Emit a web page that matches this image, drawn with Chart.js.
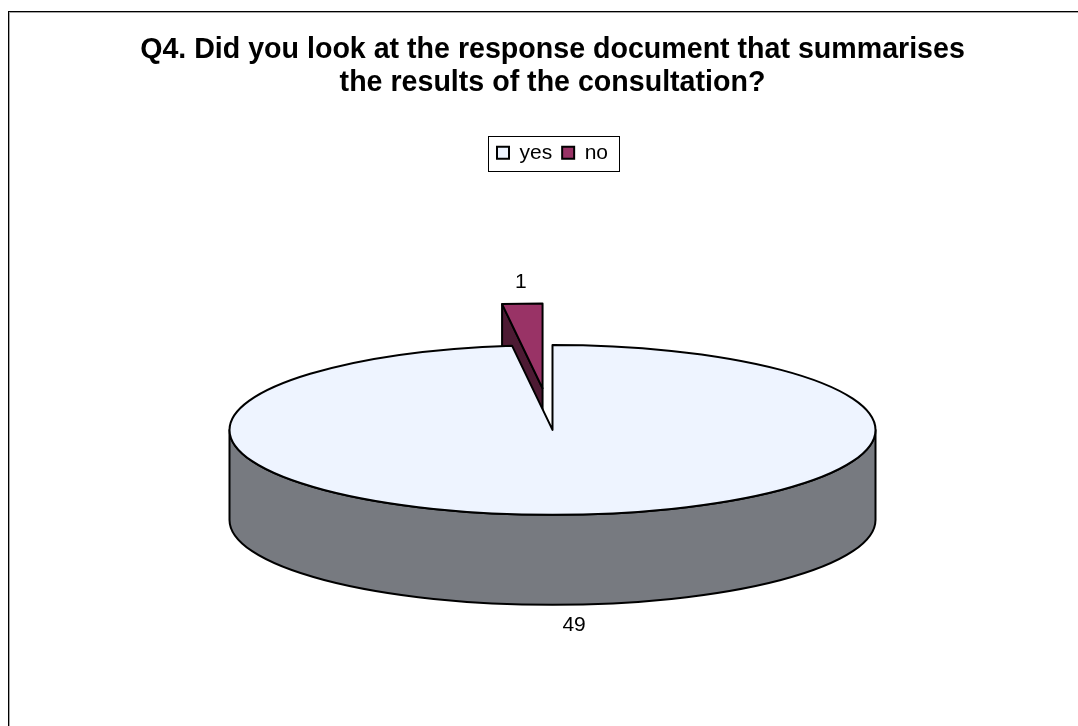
<!DOCTYPE html>
<html>
<head>
<meta charset="utf-8">
<title>Q4 response document</title>
<script src="https://cdn.jsdelivr.net/npm/chart.js@4/dist/chart.umd.min.js"></script>
<style>
  html, body { margin: 0; padding: 0; background: #fff; }
  #wrap { position: relative; width: 1078px; height: 726px; }
</style>
</head>
<body>
<div id="wrap"><canvas id="pieChart" width="1078" height="726"></canvas></div>
<script>
var answers = ['yes', 'no'];
var counts = [49, 1];
var sliceColors = ['#eef4ff', '#993366'];
var titleLines = [
    'Q4. Did you look at the response document that summarises',
    'the results of the consultation?'
];

Chart.defaults.font.family = '"Liberation Sans", Arial, Helvetica, sans-serif';
Chart.defaults.color = '#000';

// darker tone of a slice colour, used for its sides
function shade(hex, f) {
    var n = parseInt(hex.slice(1), 16);
    var r = Math.round(((n >> 16) & 255) * f);
    var g = Math.round(((n >> 8) & 255) * f);
    var b = Math.round((n & 255) * f);
    return 'rgb(' + r + ',' + g + ',' + b + ')';
}

// outer frame of the chart object
var chartFrame = {
    id: 'chartFrame',
    beforeDraw: function (chart) {
        var ctx = chart.ctx;
        ctx.save();
        ctx.fillStyle = '#fff';
        ctx.fillRect(0, 0, chart.width, chart.height);
        ctx.fillStyle = '#000';
        ctx.fillRect(8, 11, chart.width, 1);
        ctx.fillRect(8, 11, 1, chart.height);
        ctx.fillStyle = '#a6a6a6';
        ctx.fillRect(9, 12, chart.width, 1);
        ctx.fillRect(9, 12, 1, chart.height);
        ctx.restore();
    }
};

// box around the legend items
var legendFrame = {
    id: 'legendFrame',
    afterDraw: function (chart) {
        var boxes = chart.legend && chart.legend.legendHitBoxes;
        if (!boxes || !boxes.length) return;
        var l = Infinity, r = -Infinity, t = Infinity, b = -Infinity;
        boxes.forEach(function (h) {
            l = Math.min(l, h.left);
            r = Math.max(r, h.left + h.width);
            t = Math.min(t, h.top);
            b = Math.max(b, h.top + h.height);
        });
        var ctx = chart.ctx;
        ctx.save();
        ctx.strokeStyle = '#000';
        ctx.lineWidth = 1;
        ctx.strokeRect(Math.round(l - 9) + 0.5, Math.round(t - 6) + 0.5,
            Math.round(r - l + 20), Math.round(b - t + 14));
        ctx.restore();
    }
};

// tilted pie: sides drawn here, top faces drawn by the pie controller under a squash
var pie3d = {
    id: 'pie3d',
    afterDatasetUpdate: function (chart, args, opts) {
        var area = chart.chartArea;
        chart.$pie3d = { cx: (area.left + area.right) / 2, cy: (area.top + area.bottom) / 2 };
        args.meta.data.forEach(function (arc, i) {
            var ex = (opts.explode || [])[i] || 0;
            if (!ex) return;
            var mid = (arc.startAngle + arc.endAngle) / 2;
            arc.x += Math.cos(mid) * ex * arc.outerRadius;
            arc.y += Math.sin(mid) * ex * arc.outerRadius;
        });
    },
    beforeDatasetsDraw: function (chart, args, opts) {
        var ctx = chart.ctx, c = chart.$pie3d, k = opts.tilt, depth = opts.depth;
        var arcs = chart.getDatasetMeta(0).data;
        var colors = chart.data.datasets[0].backgroundColor;

        var order = arcs.map(function (a, i) { return i; });
        order.sort(function (a, b) {
            var A = arcs[a], B = arcs[b];
            var ya = A.y + Math.sin((A.startAngle + A.endAngle) / 2) * A.outerRadius / 2;
            var yb = B.y + Math.sin((B.startAngle + B.endAngle) / 2) * B.outerRadius / 2;
            return ya - yb;
        });

        ctx.save();
        ctx.lineWidth = opts.lineWidth;
        ctx.strokeStyle = '#000';
        ctx.lineJoin = 'round';
        order.forEach(function (i) {
            var arc = arcs[i];
            var ex = arc.x, ey = c.cy + (arc.y - c.cy) * k;
            var rx = arc.outerRadius, ry = rx * k;
            var s = arc.startAngle, e = arc.endAngle;
            ctx.fillStyle = shade(colors[i], 0.5);

            function radial(a) {
                ctx.beginPath();
                ctx.moveTo(ex, ey);
                ctx.lineTo(ex + rx * Math.cos(a), ey + ry * Math.sin(a));
                ctx.lineTo(ex + rx * Math.cos(a), ey + ry * Math.sin(a) + depth);
                ctx.lineTo(ex, ey + depth);
                ctx.closePath();
                ctx.fill();
                ctx.stroke();
            }
            if (Math.cos(s) < -1e-6) radial(s);
            if (Math.cos(e) > 1e-6) radial(e);

            // outer wall, only the part facing the front
            for (var n = -1; n <= 2; n++) {
                var a1 = Math.max(s, 2 * Math.PI * n), a2 = Math.min(e, 2 * Math.PI * n + Math.PI);
                if (a2 <= a1) continue;
                ctx.beginPath();
                ctx.ellipse(ex, ey, rx, ry, 0, a1, a2, false);
                ctx.lineTo(ex + rx * Math.cos(a2), ey + ry * Math.sin(a2) + depth);
                ctx.ellipse(ex, ey + depth, rx, ry, 0, a2, a1, true);
                ctx.closePath();
                ctx.fill();
                ctx.stroke();
            }
        });
        ctx.restore();

        ctx.save();
        ctx.translate(0, c.cy);
        ctx.scale(1, k);
        ctx.translate(0, -c.cy);
    },
    afterDatasetsDraw: function (chart, args, opts) {
        var ctx = chart.ctx, c = chart.$pie3d, k = opts.tilt, depth = opts.depth;
        ctx.restore();
        var meta = chart.getDatasetMeta(0);
        var values = chart.data.datasets[0].data;

        ctx.save();
        ctx.lineWidth = opts.lineWidth;
        ctx.strokeStyle = '#000';
        ctx.lineJoin = 'round';
        meta.data.forEach(function (arc) {
            ctx.save();
            ctx.translate(0, c.cy);
            ctx.scale(1, k);
            ctx.translate(0, -c.cy);
            ctx.beginPath();
            ctx.moveTo(arc.x, arc.y);
            ctx.arc(arc.x, arc.y, arc.outerRadius, arc.startAngle, arc.endAngle);
            ctx.closePath();
            ctx.restore();
            ctx.stroke();
        });

        // value labels just outside each slice
        ctx.fillStyle = '#000';
        ctx.font = opts.labelSize + 'px ' + Chart.defaults.font.family;
        ctx.textAlign = 'center';
        ctx.textBaseline = 'middle';
        meta.data.forEach(function (arc, i) {
            var mid = (arc.startAngle + arc.endAngle) / 2;
            var ex = arc.x, ey = c.cy + (arc.y - c.cy) * k;
            var px = ex + arc.outerRadius * Math.cos(mid);
            var py = ey + arc.outerRadius * k * Math.sin(mid) + (Math.sin(mid) > 0 ? depth : 0);
            ctx.fillText(String(values[i]), px + opts.labelGap * Math.cos(mid), py + opts.labelGap * Math.sin(mid));
        });
        ctx.restore();
    }
};

var baseLabels = (Chart.overrides.pie || Chart.overrides.doughnut).plugins.legend.labels.generateLabels;

var pieChart = new Chart(document.getElementById('pieChart'), {
    type: 'pie',
    data: {
        labels: answers,
        datasets: [{
            data: counts,
            backgroundColor: sliceColors,
            borderColor: '#000',
            borderWidth: 0,
            radius: 323,
            clip: false
        }]
    },
    options: {
        responsive: false,
        animation: false,
        events: [],
        layout: { padding: { left: 27, right: 0, top: 0, bottom: 39.5 } },
        plugins: {
            title: {
                display: true,
                text: titleLines,
                color: '#000',
                font: { size: 28.6, weight: 'bold', lineHeight: 1.17 },
                padding: { top: 33.4, bottom: 32 }
            },
            legend: {
                position: 'top',
                labels: {
                    boxWidth: 12,
                    boxHeight: 12,
                    padding: 10,
                    color: '#000',
                    font: { size: 21 },
                    generateLabels: function (chart) {
                        return baseLabels(chart).map(function (item) {
                            item.lineWidth = 2;
                            item.strokeStyle = '#000';
                            return item;
                        });
                    }
                }
            },
            tooltip: { enabled: false },
            pie3d: {
                tilt: 0.263,
                depth: 90,
                explode: [0, 0.49],
                lineWidth: 2,
                labelSize: 21,
                labelGap: 21
            }
        }
    },
    plugins: [chartFrame, pie3d, legendFrame]
});
</script>
</body>
</html>
